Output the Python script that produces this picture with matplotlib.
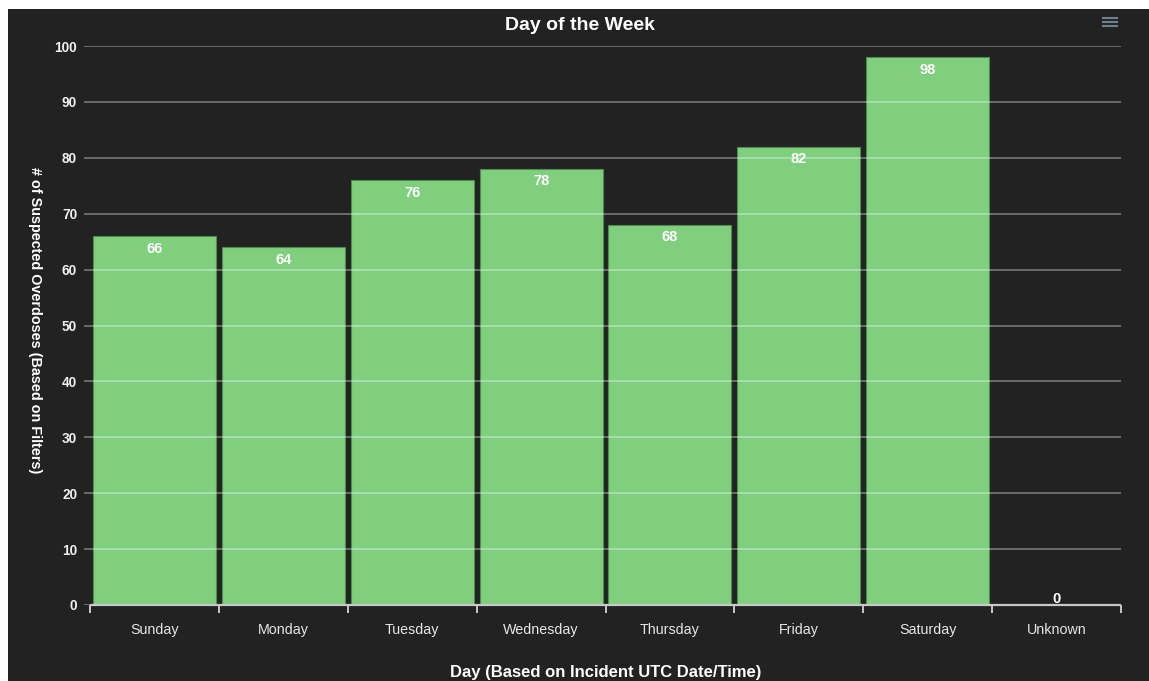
import matplotlib
matplotlib.use("Agg")
import matplotlib.pyplot as plt
from matplotlib.patches import Rectangle

categories = ["Sunday", "Monday", "Tuesday", "Wednesday", "Thursday", "Friday", "Saturday", "Unknown"]
values = [66, 64, 76, 78, 68, 82, 98, 0]
yticks = [0, 10, 20, 30, 40, 50, 60, 70, 80, 90, 100]

title = "Day of the Week"
xlabel = "Day (Based on Incident UTC Date/Time)"
ylabel = "# of Suspected Overdoses (Based on Filters)"

W, H = 1149, 681
BG = "#222222"
BAR = "#7fcf7f"
plt.rcParams["font.family"] = ["Liberation Sans", "DejaVu Sans"]

fig = plt.figure(figsize=(W / 100, H / 100), dpi=100)
fig.patch.set_facecolor("white")
fig.patches.append(Rectangle((8 / W, 0), 1 - 8 / W, 1 - 9 / H, transform=fig.transFigure,
                             facecolor=BG, edgecolor="none", zorder=-10))

left_px, right_px, top_px, bottom_px = 84, 1121, 46, 605
ax = fig.add_axes([left_px / W, 1 - bottom_px / H, (right_px - left_px) / W, (bottom_px - top_px) / H])
ax.set_facecolor("none")
for s in ax.spines.values():
    s.set_visible(False)

cat_w = (right_px - 90) / len(categories)
x = list(range(len(categories)))
ax.set_xlim(-0.5 - 6 / cat_w, len(categories) - 0.5)
ax.set_ylim(0, 100)

ax.bar(x, values, width=0.955, color=BAR, edgecolor="#4f8a4f", linewidth=0.8, zorder=2)

for yv in yticks:
    ax.axhline(yv, color="white", alpha=0.35, lw=1.3, zorder=3)

# x axis line and ticks
ax.plot([-0.5, len(categories) - 0.5], [0, 0], color="#c8c8c8", lw=1.6, zorder=4, clip_on=False, solid_capstyle="butt")
ax.set_xticks([i - 0.5 for i in range(len(categories) + 1)], minor=True)
ax.tick_params(axis="x", which="minor", length=6, width=1.4, color="#c8c8c8", direction="out")
ax.set_xticks(x)
ax.set_xticklabels(categories, color="#e6e6e6", fontsize=10.3)
ax.tick_params(axis="x", which="major", length=0, pad=13)

ax.set_yticks(yticks)
ax.set_yticklabels([str(v) for v in yticks], color="#f0f0f0", fontsize=9.8, fontweight="bold")
ax.tick_params(axis="y", length=0, pad=5)

for xi, v in zip(x, values):
    if v > 0:
        ax.annotate(str(v), (xi, v), xytext=(0, -9), textcoords="offset points",
                    ha="center", va="center", color="white", fontsize=10.5, fontweight="bold", zorder=5)
    else:
        ax.annotate(str(v), (xi, v), xytext=(0, 4), textcoords="offset points",
                    ha="center", va="center", color="white", fontsize=10.5, fontweight="bold", zorder=5)

fig.text(580 / W, 1 - 25 / H, title, ha="center", va="center", color="white",
         fontsize=14, fontweight="bold")
fig.text(35 / W, 1 - 320 / H, ylabel, ha="center", va="center", rotation=270, color="white",
         fontsize=10.4, fontweight="bold")
fig.text(606 / W, 1 - 677 / H, xlabel, ha="center", va="baseline", color="white",
         fontsize=12, fontweight="bold")

# menu icon
for dy in (18, 22, 26):
    fig.lines.append(plt.Line2D([1103 / W, 1117 / W], [1 - dy / H, 1 - dy / H], transform=fig.transFigure,
                                color="#6f7f8c", lw=1.5))

fig.savefig("out.png", dpi=100, facecolor=fig.get_facecolor())
